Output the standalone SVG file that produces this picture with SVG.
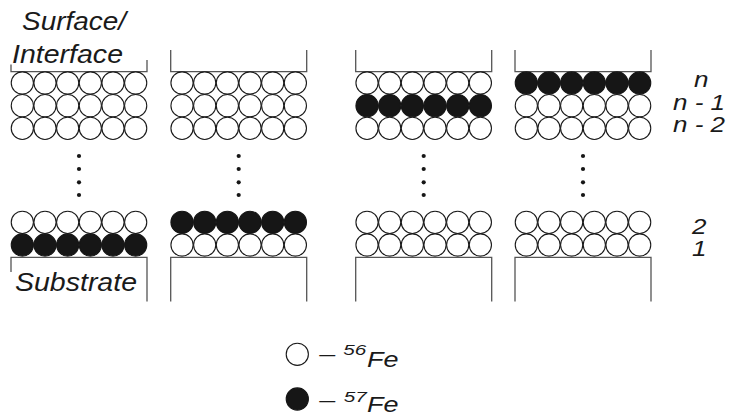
<svg xmlns="http://www.w3.org/2000/svg" width="733" height="416" viewBox="0 0 733 416">
<style>
.o{fill:#fff;stroke:#1a1a1a;stroke-width:1.1}
.f{fill:#161616;stroke:#161616;stroke-width:1.1}
.br{fill:none;stroke:#555;stroke-width:1.3}
.dot{fill:#161616}
text{font-family:"Liberation Sans",Arial,sans-serif;font-style:italic;fill:#1a1a1a}
</style>
<defs>
<g id="rowO">
<circle class="o" cx="11.33" cy="0" r="11.1"/><circle class="o" cx="34" cy="0" r="11.1"/><circle class="o" cx="56.67" cy="0" r="11.1"/><circle class="o" cx="79.33" cy="0" r="11.1"/><circle class="o" cx="102" cy="0" r="11.1"/><circle class="o" cx="124.67" cy="0" r="11.1"/>
</g>
<g id="rowF">
<circle class="f" cx="11.33" cy="0" r="11.1"/><circle class="f" cx="34" cy="0" r="11.1"/><circle class="f" cx="56.67" cy="0" r="11.1"/><circle class="f" cx="79.33" cy="0" r="11.1"/><circle class="f" cx="102" cy="0" r="11.1"/><circle class="f" cx="124.67" cy="0" r="11.1"/>
</g>
<g id="dots">
<circle class="dot" cx="68" cy="156" r="2.1"/><circle class="dot" cx="68" cy="169" r="2.1"/><circle class="dot" cx="68" cy="182.3" r="2.1"/><circle class="dot" cx="68" cy="195" r="2.1"/>
</g>
</defs>

<g id="col1">
<path class="br" d="M11,64.5 V71.7 H147 V60"/>
<use href="#rowO" x="11" y="83"/>
<use href="#rowO" x="11" y="105.67"/>
<use href="#rowO" x="11" y="128.33"/>
<use href="#dots" x="11" y="0"/>
<use href="#rowO" x="11" y="222.33"/>
<use href="#rowF" x="11" y="245"/>
<path class="br" d="M11,272 V257.3 H147 V301.5"/>
</g>

<g id="col2">
<path class="br" d="M170.7,50 V71.7 H306.7 V50"/>
<use href="#rowO" x="170.7" y="83"/>
<use href="#rowO" x="170.7" y="105.67"/>
<use href="#rowO" x="170.7" y="128.33"/>
<use href="#dots" x="170.7" y="0"/>
<use href="#rowF" x="170.7" y="222.33"/>
<use href="#rowO" x="170.7" y="245"/>
<path class="br" d="M170.7,301.5 V257.3 H306.7 V301.5"/>
</g>

<g id="col3">
<path class="br" d="M355.7,50 V71.7 H491.7 V50"/>
<use href="#rowO" x="355.7" y="83"/>
<use href="#rowF" x="355.7" y="105.67"/>
<use href="#rowO" x="355.7" y="128.33"/>
<use href="#dots" x="355.7" y="0"/>
<use href="#rowO" x="355.7" y="222.33"/>
<use href="#rowO" x="355.7" y="245"/>
<path class="br" d="M355.7,301.5 V257.3 H491.7 V301.5"/>
</g>

<g id="col4">
<path class="br" d="M515,50 V71.7 H651 V50"/>
<use href="#rowF" x="515" y="83"/>
<use href="#rowO" x="515" y="105.67"/>
<use href="#rowO" x="515" y="128.33"/>
<use href="#dots" x="515" y="0"/>
<use href="#rowO" x="515" y="222.33"/>
<use href="#rowO" x="515" y="245"/>
<path class="br" d="M515,301.5 V257.3 H651 V301.5"/>
</g>

<g id="labels">
<text x="22" y="30" font-size="25" textLength="104" lengthAdjust="spacingAndGlyphs">Surface/</text>
<text x="12" y="63.3" font-size="25" textLength="111" lengthAdjust="spacingAndGlyphs">Interface</text>
<text x="15" y="291" font-size="25" textLength="122" lengthAdjust="spacingAndGlyphs">Substrate</text>
<text x="694" y="87" font-size="22" textLength="14.5" lengthAdjust="spacingAndGlyphs">n</text>
<text x="673" y="109.5" font-size="22" textLength="52" lengthAdjust="spacingAndGlyphs">n - 1</text>
<text x="673" y="132" font-size="22" textLength="52" lengthAdjust="spacingAndGlyphs">n - 2</text>
<text x="692" y="233.5" font-size="22" textLength="14.5" lengthAdjust="spacingAndGlyphs">2</text>
<text x="692" y="255.5" font-size="22" textLength="14.5" lengthAdjust="spacingAndGlyphs">1</text>
</g>

<g id="legend">
<circle class="o" cx="297.3" cy="354.3" r="11.1"/>
<text x="319.3" y="360.4" font-size="16" style="font-style:normal">—</text>
<text x="343.3" y="355" font-size="14" textLength="23" lengthAdjust="spacingAndGlyphs">56</text>
<text x="367" y="366.7" font-size="22" textLength="31.5" lengthAdjust="spacingAndGlyphs">Fe</text>
<circle class="f" cx="297.3" cy="399" r="11.1"/>
<text x="319.3" y="406" font-size="16" style="font-style:normal">—</text>
<text x="343.8" y="401.5" font-size="14" textLength="23" lengthAdjust="spacingAndGlyphs">57</text>
<text x="367" y="412" font-size="22" textLength="31.5" lengthAdjust="spacingAndGlyphs">Fe</text>
</g>
</svg>
